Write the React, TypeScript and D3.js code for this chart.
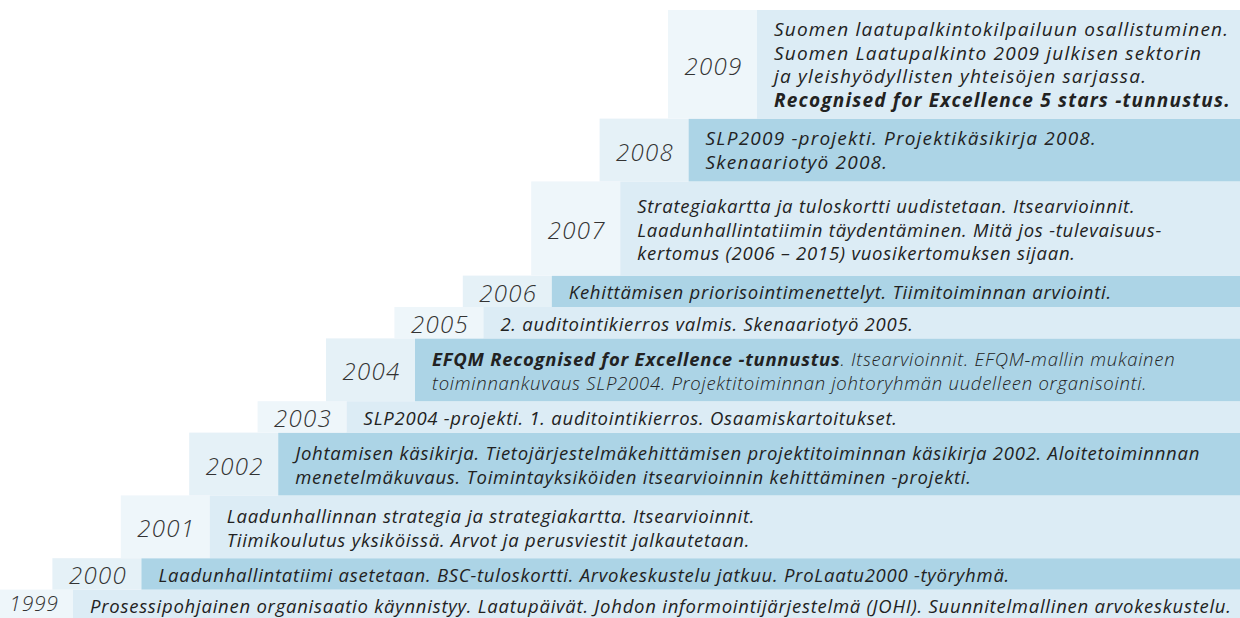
import React from 'react';
import * as d3 from 'd3';

// years bottom -> top
const years = [1999, 2000, 2001, 2002, 2003, 2004, 2005, 2006, 2007, 2008, 2009];

// text lines per year, **...** marks bold parts
const events: string[][] = [
  ['Prosessipohjainen organisaatio käynnistyy. Laatupäivät. Johdon informointijärjestelmä (JOHI). Suunnitelmallinen arvokeskustelu.'],
  ['Laadunhallintatiimi asetetaan. BSC-tuloskortti. Arvokeskustelu jatkuu. ProLaatu2000 -työryhmä.'],
  [
    'Laadunhallinnan strategia ja strategiakartta. Itsearvioinnit.',
    'Tiimikoulutus yksiköissä. Arvot ja perusviestit jalkautetaan.',
  ],
  [
    'Johtamisen käsikirja. Tietojärjestelmäkehittämisen projektitoiminnan käsikirja 2002. Aloitetoiminnnan',
    'menetelmäkuvaus. Toimintayksiköiden itsearvioinnin kehittäminen -projekti.',
  ],
  ['SLP2004 -projekti. 1. auditointikierros. Osaamiskartoitukset.'],
  [
    '**EFQM Recognised for Excellence -tunnustus**. Itsearvioinnit. EFQM-mallin mukainen',
    'toiminnankuvaus SLP2004. Projektitoiminnan johtoryhmän uudelleen organisointi.',
  ],
  ['2. auditointikierros valmis. Skenaariotyö 2005.'],
  ['Kehittämisen priorisointimenettelyt. Tiimitoiminnan arviointi.'],
  [
    'Strategiakartta ja tuloskortti uudistetaan. Itsearvioinnit.',
    'Laadunhallintatiimin täydentäminen. Mitä jos -tulevaisuus-',
    'kertomus (2006 – 2015) vuosikertomuksen sijaan.',
  ],
  ['SLP2009 -projekti. Projektikäsikirja 2008.', 'Skenaariotyö 2008.'],
  [
    'Suomen laatupalkintokilpailuun osallistuminen.',
    'Suomen Laatupalkinto 2009 julkisen sektorin',
    'ja yleishyödyllisten yhteisöjen sarjassa.',
    '**Recognised for Excellence 5 stars -tunnustus.**',
  ],
];

// rows whose body text is set in a lighter weight
const lightRows = [2004];
// rows set a touch wider
const wideRows = [2008, 2009];

const W = 1240;
const H = 618;
const FONT = "'Open Sans', sans-serif";

const colors = {
  darkBox: '#acd4e6',
  lightBox: '#dcecf5',
  darkYear: '#e5f1f7',
  lightYear: '#eef6fa',
  text: '#222',
  year: '#333',
};

const splitBold = (s: string) =>
  s.split(/(\*\*[^*]+\*\*)/).filter(Boolean).map((p) =>
    p.startsWith('**') ? { t: p.slice(2, -2), bold: true } : { t: p, bold: false }
  );

export default function App() {
  const yearW = 89;
  const lineH = 23.5;
  const rowUnit = 31.4;
  const topMargin = 10;

  const x = d3.scaleLinear().domain([1999, 2009]).range([-16, 668]);

  // stack rows from the bottom, the top row fills up to the margin
  let bottom = H + 3;
  const rows = years.map((yr, i) => {
    const n = events[i].length;
    const h = i === years.length - 1 ? bottom - topMargin : rowUnit * n;
    const top = bottom - h;
    bottom = top;
    return { yr, lines: events[i], top, h, dark: yr % 2 === 0 };
  });

  return (
    <svg
      width={W}
      height={H}
      style={{ position: 'absolute', left: 0, top: 0, background: '#fff' }}
      fontFamily={FONT}
    >
      {rows.map((r) => {
        const x0 = x(r.yr);
        const cy = r.top + r.h / 2;
        const light = lightRows.includes(r.yr);
        const wide = wideRows.includes(r.yr);
        const edge = r.yr === 1999;
        return (
          <g key={r.yr}>
            <rect x={x0} y={r.top} width={yearW} height={r.h} fill={r.dark ? colors.darkYear : colors.lightYear} />
            <rect x={x0 + yearW} y={r.top} width={W - x0 - yearW} height={r.h} fill={r.dark ? colors.darkBox : colors.lightBox} />
            <text
              x={Math.max(x0 + yearW / 2 + 1, 34)}
              y={Math.min(cy + 1, H - 15)}
              dominantBaseline="central"
              textAnchor="middle"
              fontSize={edge ? 21 : 24}
              letterSpacing={edge ? 0.8 : 1.3}
              fontStyle="italic"
              fontWeight={300}
              fill={colors.year}
            >
              {r.yr}
            </text>
            {r.lines.map((ln, j) => (
              <text
                key={j}
                x={x0 + yearW + 17}
                y={Math.min(cy + (j - (r.lines.length - 1) / 2) * lineH, H - 13)}
                dominantBaseline="central"
                fontSize={wide ? 19 : 18.5}
                letterSpacing={wide ? 1.2 : 0.75}
                fontStyle="italic"
                fontWeight={light ? 300 : 400}
                fill={colors.text}
              >
                {splitBold(ln).map((p, k) => (
                  <tspan key={k} fontWeight={p.bold ? 700 : undefined}>
                    {p.t}
                  </tspan>
                ))}
              </text>
            ))}
          </g>
        );
      })}
    </svg>
  );
}
